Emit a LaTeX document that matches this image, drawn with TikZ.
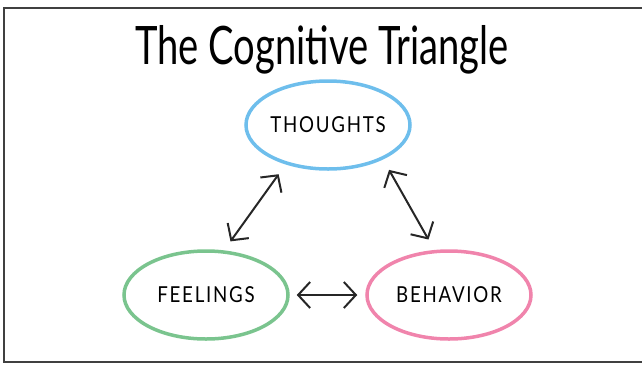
\documentclass[tikz,border=0pt]{standalone}
\usepackage{fontspec}
\usetikzlibrary{arrows.meta}
\usetikzlibrary{positioning}
\usetikzlibrary{shapes.geometric}
\newfontfamily\titlefont[FakeStretch=0.72]{Lato}
\newfontfamily\labelfont[FakeStretch=0.85,LetterSpace=8]{Lato}
\definecolor{thoughtblue}{RGB}{110,190,236}
\definecolor{feelgreen}{RGB}{122,196,142}
\definecolor{behavepink}{RGB}{240,132,172}
\tikzset{
    idea/.style={ellipse, line width=3.5pt, minimum width=164pt, minimum height=88pt,
        inner sep=0pt, font=\labelfont\fontsize{22}{22}\selectfont},
    twoway/.style={{Straight Barb[length=12pt,width=26pt]}-{Straight Barb[length=12pt,width=26pt]},
        line width=2pt, black!85},
}

\begin{document}
\begin{tikzpicture}[x=1pt, y=-1pt]
    \useasboundingbox (0,0) rectangle (642,365);
    % frame
    \draw[line width=2pt, black!75] (642,8) -- (4,8) -- (4,362) -- (642,362);

    \node (title) at (322,50) {\titlefont\fontsize{53}{53}\selectfont The Cognitive Triangle};

    \node (thoughts) [idea, draw=thoughtblue] at (328,125) {THOUGHTS};
    \node (feelings) [idea, draw=feelgreen, on grid, below left=170pt and 122pt of thoughts] {FEELINGS};
    \node (behavior) [idea, draw=behavepink, on grid, right=243pt of feelings] {BEHAVIOR};

    % the three links
    \draw[twoway, shorten <=12pt, shorten >=11pt] (thoughts.223) -- (feelings.68);
    \draw[twoway, shorten <=12pt, shorten >=12pt] (thoughts.328) -- (behavior.108);
    \draw[twoway, shorten <=7pt, shorten >=8pt] (feelings.east) -- (behavior.west);
\end{tikzpicture}
\end{document}
